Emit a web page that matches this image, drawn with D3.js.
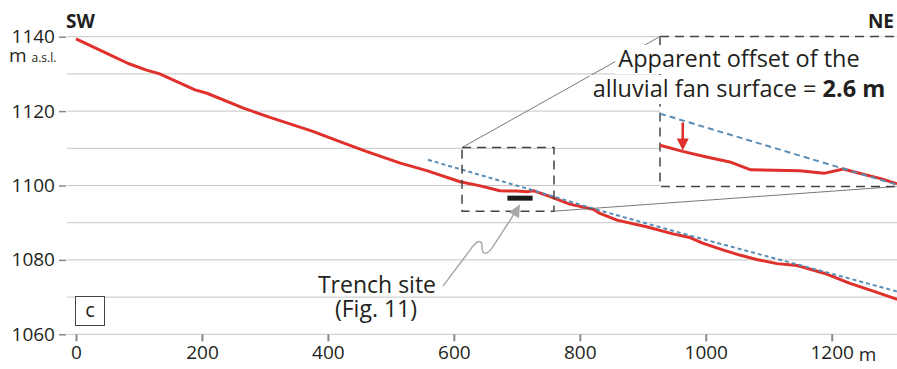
<!DOCTYPE html>
<html>
<head>
<meta charset="utf-8">
<script src="https://cdn.jsdelivr.net/npm/d3@7"></script>
<style>
body { margin: 0; background: #fff; }
svg { display: block; font-family: "Open Sans", sans-serif; }
</style>
</head>
<body>
<svg id="chart" width="897" height="369"></svg>
<script>
// topographic profile SW -> NE, distance (m) and elevation (m a.s.l.)
var profileDist = [0, 54, 83, 112, 133, 189, 208, 266, 308, 375, 419, 462, 515, 557, 610, 642, 673, 700, 716, 726,
    753, 784, 821, 832, 859, 906, 948, 975, 995, 1027, 1054, 1081, 1113, 1145, 1166, 1192, 1229, 1266, 1304];
var profileElev = [1139.4, 1135.1, 1132.8, 1131.0, 1130.0, 1125.7, 1124.8, 1120.8, 1118.3, 1114.6, 1111.8, 1109.1,
    1106.0, 1104.0, 1101.0, 1099.9, 1098.6, 1098.5, 1098.3, 1098.6, 1097.0, 1095.0, 1093.6, 1092.5, 1090.7, 1088.9,
    1087.0, 1086.0, 1084.5, 1082.7, 1081.3, 1080.1, 1079.0, 1078.5, 1077.5, 1076.2, 1073.7, 1071.6, 1069.4];

// projected alluvial fan surface (dashed)
var surfaceDist = [559, 726, 821, 991, 1145, 1304];
var surfaceElev = [1106.9, 1098.7, 1093.8, 1085.8, 1078.8, 1071.5];

// enlarged detail (inset), same units as the box it magnifies
var insetDist = [613, 627, 641, 656, 669, 699, 714, 726, 734, 749, 759];
var insetElev = [1097.8, 1097.1, 1096.5, 1095.9, 1095.0, 1094.9, 1094.6, 1095.1, 1094.7, 1094.0, 1093.4];
var insetSurfaceDist = [613, 759];
var insetSurfaceElev = [1101.4, 1093.3];
var offsetAt = 627;

var detailDist = [613, 759];
var detailElev = [1093.1, 1110.2];

var trenchDist = [685, 725];
var trenchElev = 1096.6;

var xTicks = [0, 200, 400, 600, 800, 1000, 1200];
var yTicks = [1060, 1080, 1100, 1120, 1140];
var gridLevels = [1060, 1070, 1080, 1090, 1100, 1110, 1120, 1130, 1140];

var RED = "#e0302b", BLUE = "#5a8db6", TXT = "#231f20";

var svg = d3.select("#chart");

var x = d3.scaleLinear().domain([0, 1200]).range([76, 831.7]);
var y = d3.scaleLinear().domain([1060, 1140]).range([334.3, 36.7]);

var xi = d3.scaleLinear().domain(detailDist).range([660, 897]);
var yi = d3.scaleLinear().domain(detailElev).range([186.5, 36.5]);

// grid
svg.append("g").selectAll("line")
    .data(gridLevels)
    .enter().append("line")
    .attr("x1", 67).attr("x2", 897)
    .attr("y1", function (d) { return y(d); })
    .attr("y2", function (d) { return y(d); })
    .style("stroke", "#c6c6c6").style("stroke-width", 1);

// y axis
var yAxis = svg.append("g").attr("transform", "translate(66,0)")
    .call(d3.axisLeft(y).tickValues(yTicks).tickFormat(d3.format("d")).tickSize(7).tickPadding(4));
yAxis.select(".domain").remove();
yAxis.selectAll(".tick line").style("stroke", "#888").style("stroke-width", 1.5);
yAxis.selectAll(".tick text").style("font-family", "Open Sans").style("font-size", "19px").attr("fill", TXT);

// x axis
var xAxis = svg.append("g").attr("transform", "translate(0," + y(1060) + ")")
    .call(d3.axisBottom(x).tickValues(xTicks).tickFormat(d3.format("d")).tickSize(7).tickPadding(4));
xAxis.select(".domain").remove();
xAxis.selectAll(".tick line").style("stroke", "#888").style("stroke-width", 2);
xAxis.selectAll(".tick text").style("font-family", "Open Sans").style("font-size", "19px").attr("fill", TXT);

svg.append("text").attr("x", x(1200) + 27).attr("y", 361).text("m")
    .style("font-size", "19px").attr("fill", TXT);

// units
var unit = svg.append("text").attr("x", 9).attr("y", 62).attr("fill", TXT).style("font-size", "19px");
unit.append("tspan").text("m ");
unit.append("tspan").text("a.s.l.").style("font-size", "12px");

svg.append("text").attr("x", 66).attr("y", 28).text("SW")
    .style("font-size", "19px").style("font-weight", "bold").attr("fill", TXT);
svg.append("text").attr("x", 894).attr("y", 28).text("NE").attr("text-anchor", "end")
    .style("font-size", "19px").style("font-weight", "bold").attr("fill", TXT);

// panel label
svg.append("rect").attr("x", 75.5).attr("y", 296.5).attr("width", 29).attr("height", 29)
    .style("fill", "#fff").style("stroke", "#444").style("stroke-width", 1);
svg.append("text").attr("x", 90).attr("y", 317).text("c").attr("text-anchor", "middle")
    .style("font-size", "20px").attr("fill", TXT);

// profile
var line = d3.line()
    .x(function (d) { return x(d[0]); })
    .y(function (d) { return y(d[1]); });

svg.append("path")
    .datum(d3.zip(profileDist, profileElev))
    .attr("d", line)
    .style("fill", "none").style("stroke", RED).style("stroke-width", 3)
    .style("stroke-linejoin", "round");

svg.append("path")
    .datum(d3.zip(surfaceDist, surfaceElev))
    .attr("d", line)
    .style("fill", "none").style("stroke", BLUE).style("stroke-width", 2)
    .style("stroke-dasharray", "4,3");

// detail box
var bx0 = x(detailDist[0]), bx1 = x(detailDist[1]);
var by0 = y(detailElev[1]), by1 = y(detailElev[0]);
svg.append("rect")
    .attr("x", bx0).attr("y", by0).attr("width", bx1 - bx0).attr("height", by1 - by0)
    .style("fill", "none").style("stroke", "#444").style("stroke-width", 1.5)
    .style("stroke-dasharray", "9,6");

// connectors to the inset
svg.append("line")
    .attr("x1", bx0).attr("y1", by0).attr("x2", xi(detailDist[0])).attr("y2", yi(detailElev[1]))
    .style("stroke", "#555").style("stroke-width", 0.8);
svg.append("line")
    .attr("x1", bx1).attr("y1", by1).attr("x2", xi(detailDist[1])).attr("y2", yi(detailElev[0]))
    .style("stroke", "#555").style("stroke-width", 0.8);

// inset
var ix0 = xi(detailDist[0]), iy0 = yi(detailElev[1]), iy1 = yi(detailElev[0]);
svg.append("rect")
    .attr("x", ix0).attr("y", iy0).attr("width", 260).attr("height", iy1 - iy0)
    .style("fill", "#fff").style("stroke", "#444").style("stroke-width", 1.5)
    .style("stroke-dasharray", "9,6");

var iline = d3.line()
    .x(function (d) { return xi(d[0]); })
    .y(function (d) { return yi(d[1]); });

svg.append("path")
    .datum(d3.zip(insetDist, insetElev))
    .attr("d", iline)
    .style("fill", "none").style("stroke", RED).style("stroke-width", 3)
    .style("stroke-linejoin", "round");

svg.append("path")
    .datum(d3.zip(insetSurfaceDist, insetSurfaceElev))
    .attr("d", iline)
    .style("fill", "none").style("stroke", BLUE).style("stroke-width", 2)
    .style("stroke-dasharray", "6,4");

// offset arrow
var surfAt = d3.scaleLinear().domain(insetSurfaceDist).range(insetSurfaceElev)(offsetAt);
var profAt = d3.scaleLinear().domain(insetDist).range(insetElev)(offsetAt);
var ax = xi(offsetAt), aTop = yi(surfAt) + 2, aTip = yi(profAt) - 1;
svg.append("line")
    .attr("x1", ax).attr("x2", ax).attr("y1", aTop).attr("y2", aTip - 8)
    .style("stroke", RED).style("stroke-width", 2.5);
svg.append("path")
    .attr("d", "M" + (ax - 6) + "," + (aTip - 12) + "L" + (ax + 6) + "," + (aTip - 12) + "L" + ax + "," + aTip + "Z")
    .style("fill", RED);

// annotation text with white backing
function label(cx, by, parts, size) {
    var t = svg.append("text").attr("x", cx).attr("y", by).attr("text-anchor", "middle")
        .attr("fill", TXT).style("font-size", size + "px");
    parts.forEach(function (p) {
        t.append("tspan").text(p[0]).style("font-weight", p[1] ? "bold" : "normal");
    });
    return t;
}
var ann = svg.append("g");
var t1 = label(739, 67, [["Apparent offset of the", false]], 23.5);
var t2 = label(739, 97, [["alluvial fan surface = ", false], ["2.6 m", true]], 23.5);
[t1, t2].forEach(function (t) {
    var b = t.node().getBBox();
    ann.append("rect").attr("x", b.x - 3).attr("y", b.y + 3).attr("width", b.width + 6).attr("height", b.height - 3)
        .style("fill", "#fff");
});
t1.raise(); t2.raise();

// trench site
svg.append("rect")
    .attr("x", x(trenchDist[0])).attr("y", y(trenchElev) - 2.5)
    .attr("width", x(trenchDist[1]) - x(trenchDist[0])).attr("height", 5)
    .style("fill", "#1a1a1a");

var tipX = x((trenchDist[0] + trenchDist[1]) / 2), tipY = y(trenchElev) + 6;
svg.append("path")
    .attr("d", "M" + (tipX - 77) + "," + (tipY + 82) +
        "L" + (tipX - 50) + "," + (tipY + 46) +
        "C" + (tipX - 44) + "," + (tipY + 37) + " " + (tipX - 38) + "," + (tipY + 34) + " " + (tipX - 38) + "," + (tipY + 42) +
        "C" + (tipX - 38) + "," + (tipY + 50) + " " + (tipX - 34) + "," + (tipY + 52) + " " + (tipX - 28) + "," + (tipY + 44) +
        "L" + (tipX - 6) + "," + (tipY + 10))
    .style("fill", "none").style("stroke", "#a8a8a8").style("stroke-width", 1.5);
svg.append("path")
    .attr("d", "M" + tipX + "," + tipY + "L" + (tipX - 1) + "," + (tipY + 14) + "L" + (tipX - 11) + "," + (tipY + 8) + "Z")
    .style("fill", "#a8a8a8");

label(377, 293, [["Trench site", false]], 23);
label(376, 317, [["(Fig. 11)", false]], 23);
</script>
</body>
</html>
